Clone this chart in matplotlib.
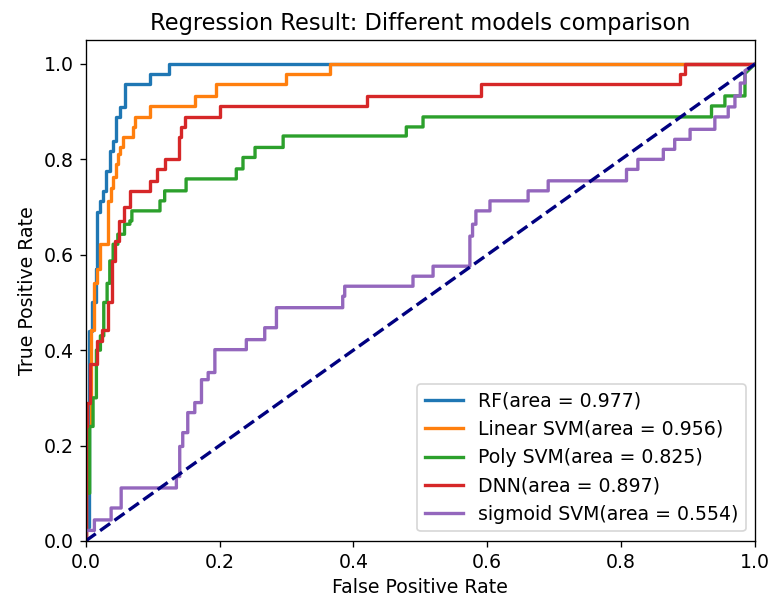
import matplotlib
matplotlib.use("Agg")
import matplotlib.pyplot as plt

# ROC corner points (fpr, tpr)
fpr_rf = [0, 0, 0.0045, 0.0045, 0.009, 0.009, 0.015, 0.015, 0.017, 0.017, 0.021, 0.021,
          0.026, 0.026, 0.030, 0.030, 0.036, 0.036, 0.041, 0.041, 0.046, 0.046, 0.051,
          0.051, 0.058, 0.058, 0.096, 0.096, 0.124, 0.124, 1.0]
tpr_rf = [0, 0.03, 0.03, 0.44, 0.44, 0.50, 0.50, 0.57, 0.57, 0.69, 0.69, 0.713,
          0.713, 0.734, 0.734, 0.776, 0.776, 0.818, 0.818, 0.839, 0.839, 0.888, 0.888,
          0.909, 0.909, 0.958, 0.958, 0.979, 0.979, 1.0, 1.0]

fpr_lin = [0, 0, 0.003, 0.003, 0.008, 0.008, 0.013, 0.013, 0.017, 0.017, 0.022, 0.022,
           0.034, 0.034, 0.038, 0.038, 0.041, 0.041, 0.046, 0.046, 0.048,
           0.048, 0.051, 0.051, 0.056, 0.056, 0.071, 0.071, 0.073, 0.073, 0.096, 0.096,
           0.163, 0.163, 0.195, 0.195, 0.300, 0.300, 0.365, 0.365, 1.0]
tpr_lin = [0, 0.13, 0.13, 0.24, 0.24, 0.443, 0.443, 0.54, 0.54, 0.57, 0.57, 0.622,
           0.622, 0.713, 0.713, 0.741, 0.741, 0.762, 0.762, 0.790, 0.790,
           0.811, 0.811, 0.825, 0.825, 0.846, 0.846, 0.867, 0.867, 0.888, 0.888, 0.912,
           0.912, 0.933, 0.933, 0.958, 0.958, 0.979, 0.979, 1.0, 1.0]

fpr_poly = [0, 0, 0.006, 0.006, 0.011, 0.011, 0.016, 0.016, 0.022, 0.022,
            0.027, 0.027, 0.032, 0.032, 0.036, 0.036, 0.041, 0.041, 0.048, 0.048, 0.058,
            0.058, 0.066, 0.066, 0.069, 0.069, 0.081, 0.081, 0.111, 0.111, 0.118, 0.118,
            0.150, 0.150, 0.225, 0.225, 0.235, 0.235, 0.253, 0.253, 0.295, 0.295, 0.479,
            0.479, 0.504, 0.504, 0.935, 0.935, 0.955, 0.955, 0.985, 0.985, 1.0]
tpr_poly = [0, 0.10, 0.10, 0.24, 0.24, 0.30, 0.30, 0.40, 0.40, 0.43,
            0.43, 0.50, 0.50, 0.54, 0.54, 0.587, 0.587, 0.622, 0.622, 0.643, 0.643,
            0.664, 0.664, 0.671, 0.671, 0.692, 0.692, 0.692, 0.692, 0.713, 0.713, 0.734,
            0.734, 0.759, 0.759, 0.780, 0.780, 0.804, 0.804, 0.825, 0.825, 0.849, 0.849,
            0.868, 0.868, 0.889, 0.889, 0.912, 0.912, 0.933, 0.933, 0.98, 1.0]

fpr_dnn = [0, 0, 0.002, 0.002, 0.006, 0.006, 0.017, 0.017, 0.025, 0.025,
           0.034, 0.034, 0.039, 0.039, 0.044, 0.044, 0.050, 0.050, 0.057, 0.057,
           0.066, 0.066, 0.096, 0.096, 0.106, 0.106,
           0.118, 0.118, 0.140, 0.140, 0.143, 0.143, 0.148, 0.148, 0.200, 0.200, 0.420,
           0.420, 0.591, 0.591, 0.888, 0.888, 0.895, 0.895, 1.0]
tpr_dnn = [0, 0.24, 0.24, 0.29, 0.29, 0.37, 0.37, 0.42, 0.42, 0.443,
           0.443, 0.50, 0.50, 0.587, 0.587, 0.629, 0.629, 0.671, 0.671, 0.700,
           0.700, 0.734, 0.734, 0.755, 0.755, 0.780,
           0.780, 0.800, 0.800, 0.846, 0.846, 0.867, 0.867, 0.888, 0.888, 0.912, 0.912,
           0.933, 0.933, 0.958, 0.958, 0.979, 0.979, 1.0, 1.0]

fpr_sig = [0, 0, 0.013, 0.013, 0.038, 0.038, 0.053, 0.053, 0.1355, 0.1355, 0.1405, 0.1405,
           0.145, 0.145, 0.1525, 0.1525, 0.163, 0.163, 0.173, 0.173, 0.183, 0.183, 0.193,
           0.193, 0.240, 0.240, 0.2675, 0.2675, 0.285, 0.285, 0.384, 0.384, 0.387, 0.387,
           0.489, 0.489, 0.519, 0.519, 0.574, 0.574, 0.578, 0.578, 0.583, 0.583, 0.604,
           0.604, 0.661, 0.661, 0.691, 0.691, 0.808, 0.808, 0.825, 0.825, 0.863, 0.863,
           0.880, 0.880, 0.903, 0.903, 0.940, 0.940, 0.960, 0.960, 0.970, 0.970, 0.978,
           0.978, 0.985, 0.985, 1.0]
tpr_sig = [0, 0.022, 0.022, 0.044, 0.044, 0.069, 0.069, 0.111, 0.111, 0.135, 0.135, 0.198,
           0.198, 0.227, 0.227, 0.269, 0.269, 0.29, 0.29, 0.338, 0.338, 0.353, 0.353,
           0.401, 0.401, 0.422, 0.422, 0.447, 0.447, 0.489, 0.489, 0.513, 0.513, 0.534,
           0.534, 0.555, 0.555, 0.576, 0.576, 0.639, 0.639, 0.664, 0.664, 0.692, 0.692,
           0.713, 0.713, 0.734, 0.734, 0.755, 0.755, 0.779, 0.779, 0.800, 0.800, 0.821,
           0.821, 0.842, 0.842, 0.863, 0.863, 0.889, 0.889, 0.910, 0.910, 0.933, 0.933,
           0.960, 0.960, 0.986, 1.0]

labels = ["RF(area = 0.977)", "Linear SVM(area = 0.956)", "Poly SVM(area = 0.825)",
          "DNN(area = 0.897)", "sigmoid SVM(area = 0.554)"]

plt.rcParams["font.size"] = 11.3

fig = plt.figure(figsize=(772 / 120, 599 / 120), dpi=120)
ax = fig.add_axes([0.111, 0.097, 0.867, 0.836])

curves = [(fpr_rf, tpr_rf), (fpr_lin, tpr_lin), (fpr_poly, tpr_poly),
          (fpr_dnn, tpr_dnn), (fpr_sig, tpr_sig)]
for i, (f, t) in enumerate(curves):
    ax.plot(f, t, color="C%d" % i, lw=2, label=labels[i])

ax.plot([0, 1], [0, 1], color="navy", lw=2, linestyle="--")
ax.set_xlim([0.0, 1.0])
ax.set_ylim([0.0, 1.05])
ax.set_xlabel("False Positive Rate")
ax.set_ylabel("True Positive Rate")
ax.set_title("Regression Result: Different models comparison", fontsize=13.5)
ax.legend(loc="lower right")

fig.savefig("out.png", dpi=120)
